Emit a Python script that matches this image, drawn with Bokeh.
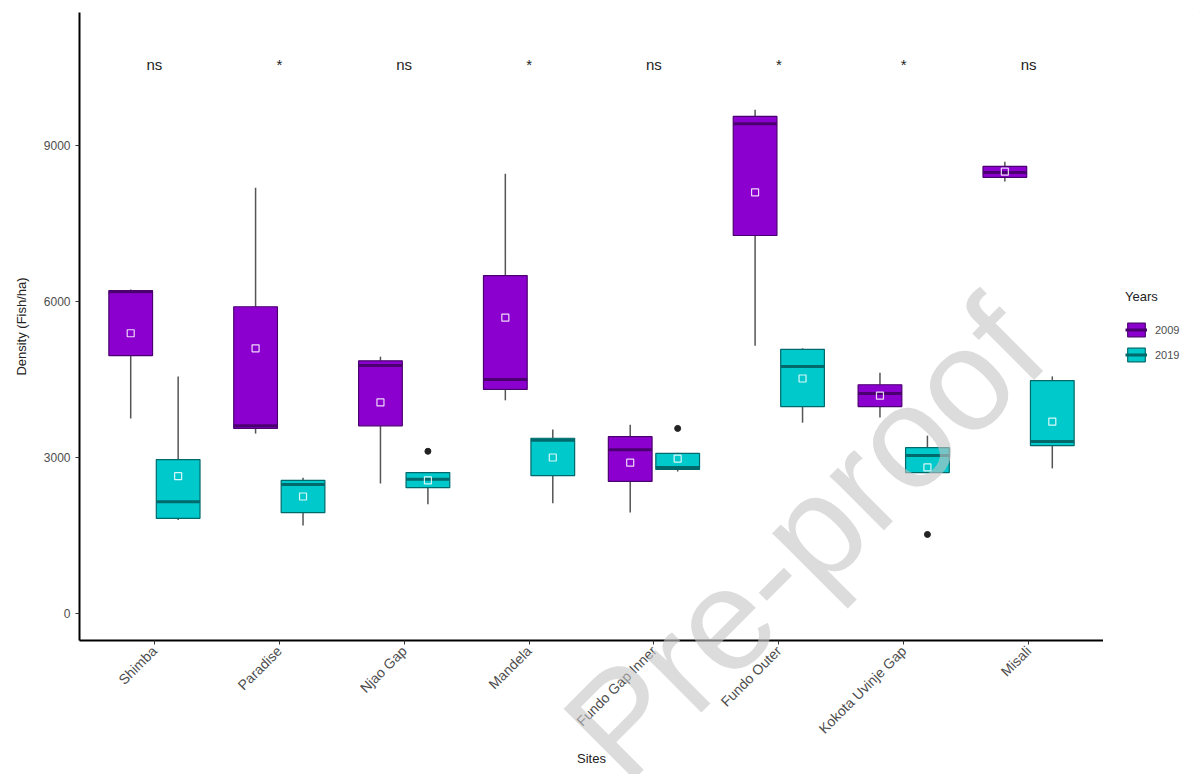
import math
from bokeh.plotting import figure
from bokeh.layouts import row
from bokeh.models import (ColumnDataSource, FactorRange, Range1d, FixedTicker,
                          Legend, LegendItem)
from bokeh.transform import dodge
from bokeh.core.properties import value
from bokeh.embed import file_html
from bokeh.resources import INLINE

# ---- data -------------------------------------------------------------
sites = ["Shimba", "Paradise", "Njao Gap", "Mandela", "Fundo Gap Inner",
         "Fundo Outer", "Kokota Uvinje Gap", "Misali"]

# 2009 box statistics (fish/ha)
lower_2009 = [3750, 3460, 2500, 4100, 1940, 5150, 3770, 8310]
q1_2009 = [4960, 3560, 3610, 4310, 2540, 7270, 3980, 8390]
median_2009 = [6190, 3610, 4770, 4500, 3150, 9420, 4230, 8480]
q3_2009 = [6210, 5900, 4860, 6500, 3400, 9560, 4400, 8600]
upper_2009 = [6230, 8190, 4940, 8460, 3630, 9690, 4630, 8690]
mean_2009 = [5390, 5100, 4060, 5690, 2900, 8100, 4190, 8500]

# 2019 box statistics (fish/ha)
lower_2019 = [1800, 1690, 2100, 2120, 2730, 3670, 2700, 2790]
q1_2019 = [1830, 1940, 2420, 2650, 2770, 3980, 2710, 3230]
median_2019 = [2150, 2480, 2580, 3330, 2810, 4750, 3040, 3310]
q3_2019 = [2960, 2560, 2710, 3370, 3080, 5080, 3190, 4480]
upper_2019 = [4560, 2610, 2720, 3540, 3090, 5100, 3420, 4560]
mean_2019 = [2640, 2250, 2560, 3000, 2980, 4520, 2810, 3690]

# outlying observations (2019 only)
outlier_sites_2019 = ["Njao Gap", "Fundo Gap Inner", "Kokota Uvinje Gap"]
outlier_values_2019 = [3120, 3560, 1520]

# significance of the 2009 vs 2019 comparison per site
significance = ["ns", "*", "ns", "*", "ns", "*", "*", "ns"]
significance_y = 10560

years = ["2009", "2019"]

# ---- figure -----------------------------------------------------------
FONT = "Liberation Sans"
TOP, BOTTOM = 12, 134
PAGE_W, PAGE_H = 1200, 774

p = figure(
    x_range=FactorRange(factors=sites, range_padding=0.1,
                        range_padding_units="absolute"),
    y_range=Range1d(-520, 11560),
    width=1103, height=PAGE_H,
    output_backend="svg", toolbar_location=None,
    min_border_left=79, min_border_right=0,
    min_border_top=TOP, min_border_bottom=BOTTOM,
)
p.background_fill_color = "white"
p.border_fill_color = "white"
p.outline_line_color = None
p.xgrid.visible = False
p.ygrid.visible = False

styles = {
    "2009": dict(fill="#8B00CF", edge="#4B0070", offset=-0.19,
                 lower=lower_2009, q1=q1_2009, med=median_2009,
                 q3=q3_2009, upper=upper_2009, mean=mean_2009),
    "2019": dict(fill="#00C9CB", edge="#00696B", offset=0.19,
                 lower=lower_2019, q1=q1_2019, med=median_2019,
                 q3=q3_2019, upper=upper_2019, mean=mean_2019),
}
BOX_W = 0.35

for yr in years:
    s = styles[yr]
    off = s["offset"]
    src = ColumnDataSource(dict(site=sites, lower=s["lower"], q1=s["q1"],
                                med=s["med"], q3=s["q3"], upper=s["upper"],
                                mean=s["mean"]))
    xc = dodge("site", off, range=p.x_range)
    # whiskers
    p.segment(x0=xc, y0="q3", x1=xc, y1="upper", source=src,
              line_color="#555555", line_width=1.5)
    p.segment(x0=xc, y0="q1", x1=xc, y1="lower", source=src,
              line_color="#555555", line_width=1.5)
    # boxes
    p.vbar(x=xc, width=BOX_W, top="q3", bottom="q1", source=src,
           fill_color=s["fill"], line_color=s["edge"], line_width=1.2)
    # medians
    p.segment(x0=dodge("site", off - BOX_W / 2, range=p.x_range), y0="med",
              x1=dodge("site", off + BOX_W / 2, range=p.x_range), y1="med",
              source=src, line_color=s["edge"], line_width=3)
    # means
    p.scatter(x=xc, y="mean", source=src, marker="square", size=7,
              fill_alpha=0, line_color="white", line_alpha=0.85, line_width=1.2)

out_src = ColumnDataSource(dict(site=outlier_sites_2019, v=outlier_values_2019))
p.scatter(x=dodge("site", styles["2019"]["offset"], range=p.x_range), y="v",
          source=out_src, size=6, color="#222222")

# significance labels
p.text(x=sites, y=[significance_y] * len(sites), text=significance,
       text_align="center", text_baseline="middle",
       text_font=value(FONT), text_font_size="15px", text_color="#222222")

# ---- axes -------------------------------------------------------------
p.yaxis.ticker = FixedTicker(ticks=[0, 3000, 6000, 9000])
p.xaxis.major_label_orientation = math.pi / 4
p.xaxis.axis_label = "Sites"
p.yaxis.axis_label = "Density (Fish/ha)"
for ax in (p.xaxis, p.yaxis):
    ax.axis_line_color = "black"
    ax.axis_line_width = 2
    ax.major_tick_line_color = "#333333"
    ax.major_tick_out = 4
    ax.major_tick_in = 0
    ax.minor_tick_line_color = None
    ax.major_label_text_font = FONT
    ax.major_label_text_color = "#4d4d4d"
    ax.axis_label_text_font = FONT
    ax.axis_label_text_font_style = "normal"
    ax.axis_label_text_font_size = "13px"
    ax.axis_label_text_color = "#222222"
p.yaxis.major_label_text_font_size = "12px"
p.xaxis.major_label_text_font_size = "14px"
p.yaxis.major_label_standoff = 5
p.xaxis.major_label_standoff = 4
p.yaxis.axis_label_standoff = 12
p.xaxis.axis_label_standoff = 6

# ---- legend panel -----------------------------------------------------
lg = figure(width=PAGE_W - 1103, height=PAGE_H, x_range=Range1d(0, 1),
            y_range=Range1d(0, 1), x_axis_type=None, y_axis_type=None,
            output_backend="svg", toolbar_location=None,
            min_border_left=0, min_border_right=0,
            min_border_top=TOP, min_border_bottom=BOTTOM)
lg.outline_line_color = None
lg.xgrid.visible = False
lg.ygrid.visible = False

items = []
for yr in years:
    s = styles[yr]
    # key glyphs: one point placed off-range so only the legend shows them
    kb = lg.vbar(x=[5], top=[5.5], bottom=[5.2], width=0.1,
                 fill_color=s["fill"], line_color=s["edge"], line_width=1.2)
    km = lg.segment(x0=[5], y0=[5.3], x1=[5.1], y1=[5.3],
                    line_color=s["edge"], line_width=3)
    items.append(LegendItem(label=yr, renderers=[kb, km]))

legend = Legend(items=items, title="Years", location=(22, 277),
                orientation="vertical", border_line_color=None,
                background_fill_alpha=0, margin=0, padding=4,
                glyph_width=22, glyph_height=17, spacing=8, label_standoff=8,
                label_text_font=FONT, label_text_font_size="11px",
                label_text_color="#4d4d4d",
                title_text_font=FONT, title_text_font_size="13px",
                title_text_font_style="normal", title_text_color="#222222",
                title_standoff=17)
lg.add_layout(legend)

# ---- "Pre-proof" watermark on a transparent page-sized overlay ----------
# Its own root (not part of the row) so its frame spans the whole page.
wm = figure(width=PAGE_W, height=PAGE_H, x_range=Range1d(0, PAGE_W),
            y_range=Range1d(0, PAGE_H), x_axis_type=None, y_axis_type=None,
            output_backend="svg", toolbar_location=None, min_border=0,
            styles={"position": "absolute", "left": "0px", "top": "0px",
                    "pointer-events": "none"})
wm.background_fill_color = None
wm.border_fill_color = None
wm.outline_line_color = None
wm.xgrid.visible = False
wm.ygrid.visible = False
wm.text(x=[590], y=[PAGE_H - 752], text=["Pre-proof"], angle=0.785,
        text_font=value(FONT), text_font_size="145px",
        text_color="#c4c4c4", text_alpha=0.6,
        text_align="left", text_baseline="alphabetic")

layout = row(p, lg, spacing=0)
open("out.html", "w").write(file_html([layout, wm], INLINE))
